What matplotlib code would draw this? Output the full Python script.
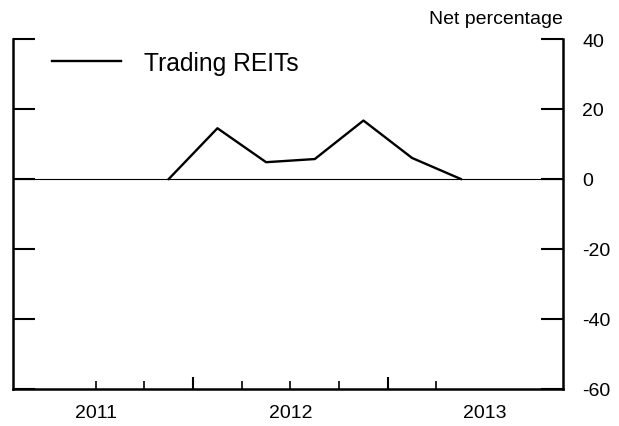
import matplotlib
matplotlib.use("Agg")
import matplotlib.pyplot as plt
from matplotlib.transforms import blended_transform_factory

plt.rcParams['font.family'] = ['Liberation Sans', 'DejaVu Sans']
plt.rcParams['axes.unicode_minus'] = False

# Data (quarterly, plotted at mid-quarter)
quarters = [2011.875, 2012.125, 2012.375, 2012.625, 2012.875, 2013.125, 2013.375]
trading_reits = [0, 14.5, 4.8, 5.7, 16.7, 6.0, 0]
series_name = "Trading REITs"

year_labels = ["2011", "2012", "2013"]
year_label_pos = [2011.5, 2012.5, 2013.5]
year_ticks = [2012, 2013]
quarter_ticks = [2011.5, 2011.75, 2012.25, 2012.5, 2012.75, 2013.25]
y_ticks = [40, 20, 0, -20, -40, -60]

fig = plt.figure(figsize=(6.19, 4.27), dpi=100)
ax = fig.add_axes([13/619, 1-390/427, 550/619, 350/427])

ax.axhline(0, color='black', lw=0.8, zorder=1)
ax.plot(quarters, trading_reits, color='black', lw=1.7, label=series_name, zorder=2)

ax.set_xlim(2011.075, 2013.9)
ax.set_ylim(-60, 40)

for s in ['left', 'right', 'bottom']:
    ax.spines[s].set_linewidth(1.8)
ax.spines['top'].set_visible(False)

ax.set_yticks(y_ticks)
ax.yaxis.set_ticks_position('both')
ax.tick_params(axis='y', direction='in', length=16, width=1.5, left=True, right=True,
               labelleft=False, labelright=True, labelsize=14, pad=14)

ax.set_xticks(year_ticks)
ax.set_xticklabels([])
ax.set_xticks(quarter_ticks, minor=True)
ax.tick_params(axis='x', which='major', direction='in', length=9, width=1.5)
ax.tick_params(axis='x', which='minor', direction='in', length=6, width=1.2)

trans = blended_transform_factory(ax.transData, ax.transAxes)
for pos, lab in zip(year_label_pos, year_labels):
    ax.text(pos, -0.042, lab, transform=trans, ha='center', va='top', fontsize=14)

ax.text(1.0, 1.047, "Net percentage", transform=ax.transAxes, ha='right',
        va='baseline', fontsize=14)

ax.legend(loc='upper left', bbox_to_anchor=(0.0709, 0.966), frameon=False,
          fontsize=17.7, handlelength=2.8, handletextpad=0.93, borderpad=0,
          borderaxespad=0)

fig.savefig("out.png", dpi=100)
